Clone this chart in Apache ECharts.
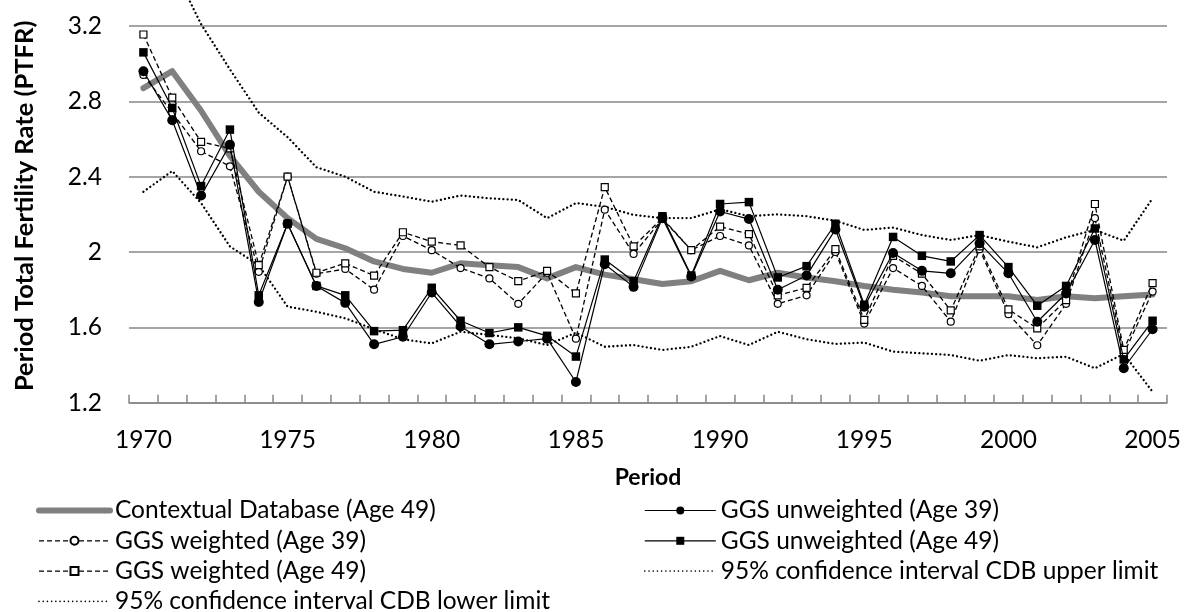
<!DOCTYPE html>
<html>
<head>
<meta charset="utf-8">
<script src="https://cdn.jsdelivr.net/npm/echarts@6/dist/echarts.min.js"></script>
<style>
html,body{margin:0;padding:0;background:#fff;}
#c{width:1188px;height:612px;}
</style>
</head>
<body>
<div id="c"></div>
<script>
const years = ['1970','1971','1972','1973','1974','1975','1976','1977','1978','1979',
  '1980','1981','1982','1983','1984','1985','1986','1987','1988','1989',
  '1990','1991','1992','1993','1994','1995','1996','1997','1998','1999',
  '2000','2001','2002','2003','2004','2005'];

const cdb = [2.87,2.96,2.75,2.51,2.32,2.18,2.07,2.02,1.95,1.91,
  1.89,1.94,1.93,1.92,1.86,1.92,1.88,1.855,1.83,1.845,
  1.90,1.85,1.89,1.865,1.845,1.82,1.80,1.785,1.765,1.765,
  1.765,1.745,1.765,1.755,1.765,1.775];

const ggsUnw39 = [2.96,2.70,2.30,2.57,1.735,2.15,1.82,1.73,1.51,1.55,
  1.785,1.605,1.51,1.525,1.54,1.31,1.935,1.815,2.18,1.87,
  2.215,2.175,1.80,1.875,2.12,1.71,1.995,1.90,1.887,2.046,
  1.887,1.63,1.78,2.064,1.383,1.59];

const ggsW39 = [2.94,2.74,2.535,2.455,1.895,2.40,1.885,1.91,1.80,2.085,
  2.01,1.915,1.86,1.725,1.89,1.54,2.225,1.99,2.175,2.01,
  2.085,2.035,1.725,1.77,2.00,1.62,1.915,1.82,1.63,2.015,
  1.67,1.505,1.725,2.18,1.46,1.79];

const ggsUnw49 = [3.06,2.765,2.35,2.65,1.77,2.15,1.82,1.77,1.58,1.585,
  1.81,1.635,1.57,1.60,1.555,1.445,1.96,1.845,2.19,1.875,
  2.255,2.265,1.865,1.925,2.15,1.72,2.08,1.98,1.95,2.09,
  1.92,1.715,1.82,2.125,1.43,1.635];

const ggsW49 = [3.155,2.82,2.585,2.55,1.93,2.40,1.89,1.94,1.875,2.105,
  2.055,2.035,1.92,1.845,1.90,1.78,2.345,2.03,2.18,2.01,
  2.135,2.095,1.77,1.81,2.015,1.64,1.98,1.885,1.69,2.03,
  1.695,1.595,1.745,2.255,1.48,1.835];

const ciUpper = [3.78,3.52,3.21,2.97,2.74,2.61,2.45,2.40,2.32,2.295,
  2.267,2.30,2.285,2.276,2.18,2.26,2.24,2.197,2.18,2.18,
  2.227,2.19,2.20,2.19,2.166,2.117,2.13,2.09,2.064,2.09,
  2.055,2.025,2.078,2.117,2.06,2.285];

const ciLower = [2.32,2.43,2.26,2.03,1.93,1.71,1.683,1.648,1.59,1.537,
  1.515,1.577,1.56,1.542,1.506,1.572,1.497,1.506,1.48,1.497,
  1.554,1.506,1.577,1.537,1.512,1.519,1.471,1.462,1.453,1.423,
  1.453,1.436,1.444,1.383,1.459,1.258];

const yTicks = ['1.2','1.6','2','2.4','2.8','3.2'];

const N_CDB = 'Contextual Database (Age 49)';
const N_U39 = 'GGS unweighted (Age 39)';
const N_W39 = 'GGS weighted (Age 39)';
const N_U49 = 'GGS unweighted (Age 49)';
const N_W49 = 'GGS weighted (Age 49)';
const N_UP = '95% confidence interval CDB upper limit';
const N_LO = '95% confidence interval CDB lower limit';

const FONT = 'Lato';
const FS = 24.5;
const GRID = '#878787';
const hidden = {color:'rgba(0,0,0,0)', borderColor:'rgba(0,0,0,0)', borderWidth:0, opacity:0};

const chart = echarts.init(document.getElementById('c'), null, {renderer:'canvas'});

const legendBase = {
  orient:'vertical', padding:0, top:498, height:200, itemWidth:71, itemHeight:10, itemGap:5.3,
  selectedMode:false,
  textStyle:{fontFamily:FONT, fontSize:FS, color:'#000', lineHeight:24}
};

const dotted = {color:'#000', width:2.3, type:[0.01,4.2], cap:'round'};

const option = {
  animation:false,
  backgroundColor:'#fff',
  grid:{left:129, right:21, top:26, bottom:209.3, outerBoundsMode:'none', containLabel:false},
  xAxis:{
    type:'category', data:years, boundaryGap:true,
    axisLine:{lineStyle:{color:GRID, width:1.5}},
    axisTick:{show:true, inside:true, length:8, interval:0, lineStyle:{color:GRID, width:1.5}},
    axisLabel:{interval:4, margin:25.3, fontFamily:FONT, fontSize:FS, color:'#000'},
    splitLine:{show:false},
    name:'Period', nameLocation:'middle', nameGap:63,
    nameTextStyle:{fontFamily:FONT, fontSize:23, fontWeight:'bold', color:'#000'}
  },
  yAxis:{
    type:'value', min:1.2, max:3.2, interval:0.4,
    axisLine:{show:false}, axisTick:{show:false},
    splitLine:{lineStyle:{color:GRID, width:1.5}},
    axisLabel:{margin:27, fontFamily:FONT, fontSize:FS, color:'#000',
      formatter:function(v){ const s = (Math.round(v*10)/10).toString(); return yTicks.indexOf(s) >= 0 ? s : ''; }},
    name:'Period Total Fertility Rate (PTFR)', nameLocation:'middle', nameRotate:90, nameGap:91,
    nameTextStyle:{fontFamily:FONT, fontSize:25.5, fontWeight:'bold', color:'#000', padding:[0,0,0,17]}
  },
  legend:[
    Object.assign({}, legendBase, {left:36, data:[
      {name:N_CDB, itemStyle:hidden, lineStyle:{width:6, cap:'round'}},
      {name:N_W39, lineStyle:{width:1.2}},
      {name:N_W49, lineStyle:{width:1.2}},
      {name:N_LO, itemStyle:hidden, lineStyle:{width:1.6}}
    ]}),
    Object.assign({}, legendBase, {left:644, data:[
      {name:N_U39, lineStyle:{width:1.2}},
      {name:N_U49, lineStyle:{width:1.2}},
      {name:N_UP, itemStyle:hidden, lineStyle:{width:1.6}}
    ]})
  ],
  series:[
    {name:N_CDB, type:'line', data:cdb, symbol:'none', z:1,
     itemStyle:{color:'#808080'},
     lineStyle:{color:'#808080', width:6, cap:'round', join:'round'}},
    {name:N_U39, type:'line', data:ggsUnw39, symbol:'circle', symbolSize:10, z:3,
     itemStyle:{color:'#000'}, lineStyle:{color:'#000', width:1.2}},
    {name:N_W39, type:'line', data:ggsW39, symbol:'circle', symbolSize:7, z:2,
     itemStyle:{color:'#fff', borderColor:'#000', borderWidth:1.2},
     lineStyle:{color:'#000', width:1.3, type:[5,3]}},
    {name:N_U49, type:'line', data:ggsUnw49, symbol:'rect', symbolSize:8.5, z:3,
     itemStyle:{color:'#000'}, lineStyle:{color:'#000', width:1.2}},
    {name:N_W49, type:'line', data:ggsW49, symbol:'rect', symbolSize:7, z:2,
     itemStyle:{color:'#fff', borderColor:'#000', borderWidth:1.2},
     lineStyle:{color:'#000', width:1.3, type:[5,3]}},
    {name:N_UP, type:'line', data:ciUpper, symbol:'none', clip:false, z:2,
     itemStyle:{color:'#000'}, lineStyle:dotted},
    {name:N_LO, type:'line', data:ciLower, symbol:'none', z:2,
     itemStyle:{color:'#000'}, lineStyle:dotted}
  ]
};
chart.setOption(option);
</script>
</body>
</html>
